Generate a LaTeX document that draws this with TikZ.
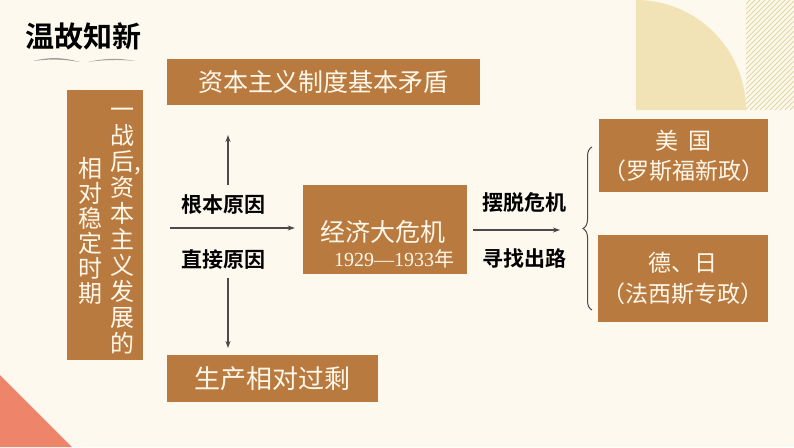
\documentclass[tikz,border=0pt]{standalone}
\usepackage{fontspec}
\setmainfont{Noto Sans CJK SC}[BoldFont={Noto Sans CJK SC Bold}]
\newfontfamily\numfont{Liberation Serif}
\usetikzlibrary{arrows.meta, positioning, calc, decorations.pathreplacing}
\definecolor{slideBg}{HTML}{FDF9EE}
\definecolor{boxBrown}{HTML}{B97A3F}
\definecolor{boxText}{HTML}{FFF8EA}
\definecolor{arcSand}{HTML}{F1E3B6}
\definecolor{hatchSand}{HTML}{E4D49F}
\definecolor{cornerSalmon}{HTML}{EE846A}
\definecolor{arrowGray}{HTML}{4A4A4A}

\begin{document}
\begin{tikzpicture}[x=1pt, y=-1pt,
    box/.style={fill=boxBrown, text=boxText, inner sep=0pt, align=center},
    boxword/.style={text=boxText, inner sep=0pt, align=center},
    cue/.style={text=black, font=\fontsize{21}{24}\selectfont\bfseries},
    link/.style={arrowGray, line width=1.2pt, -{Stealth[length=7pt, width=5pt]}}]
        % fondo
        \fill[slideBg] (0,0) rectangle (794,447);
        \useasboundingbox (0,0) rectangle (794,447);
        % esquina
        \fill[arcSand] (636,110) -- (636,0) arc[start angle=270, end angle=360, radius=110] -- cycle;
        \begin{scope}
          \clip (746,0) -- (794,0) -- (794,110) -- (746,110) -- cycle;
          \foreach \k in {0,5,...,170}
            \draw[hatchSand, line width=1pt] (630+\k,110) -- (740+\k,0);
        \end{scope}
        \fill[cornerSalmon] (0,375) -- (72,447) -- (0,447) -- cycle;
        % titulo
        \node[font=\fontsize{29}{32}\selectfont\bfseries] (title) at (83.5,36) {温故知新};
        \fill[gray!75] (33,61) .. controls (48,57) and (62,57) .. (80,62)
          .. controls (62,59) and (48,59) .. (33,61) -- cycle;
        \fill[gray!75] (88,62) .. controls (105,58) and (120,58) .. (135,61)
          .. controls (120,59.5) and (105,59.5) .. (88,62) -- cycle;
        % periodo
        \node[box, minimum width=76pt, minimum height=270pt] (eraBox) at (105,225) {};
        \node[boxword, font=\fontsize{24}{26}\selectfont] (eraLineA) at (122,231)
          {一\\战\\后\rlap{,}\\资\\本\\主\\义\\发\\展\\的};
        \node[boxword, font=\fontsize{24}{25}\selectfont] (eraLineB) at (90,231)
          {相\\对\\稳\\定\\时\\期};
        % causas
        \node[box, minimum width=313pt, minimum height=46pt, font=\fontsize{25}{28}\selectfont]
          (rootBox) at (323.5,82) {资本主义制度基本矛盾};
        \node[box, minimum width=211pt, minimum height=47pt, font=\fontsize{26}{28}\selectfont]
          (directBox) at (272.5,378.5) {生产相对过剩};
        \node[cue] (rootCue) at (223,205) {根本原因};
        \node[cue] (directCue) at (223,260) {直接原因};
        \coordinate (upFrom) at (228,185);
        \coordinate (upTo) at (228,135);
        \coordinate (downFrom) at (228,278);
        \coordinate (downTo) at (228,348);
        \coordinate (midFrom) at (170,228);
        \draw[link] (upFrom) -- (upTo);
        \draw[link] (downFrom) -- (downTo);
        % crisis
        \node[box, minimum width=164pt, minimum height=89pt] (crisis) at (385,229.5) {};
        \node[boxword, font=\fontsize{25}{28}\selectfont] (crisisName) at (383,232) {经济大危机};
        \node[boxword, font=\fontsize{20}{22}\selectfont] (crisisYears) at (394,259)
          {{\numfont 1929—1933}年};
        \draw[link, shorten >=8pt] (midFrom) -- (midFrom -| crisis.west);
        % salida
        \node[cue] (escapeCue) at (524,203) {摆脱危机};
        \node[cue] (seekCue) at (524,259) {寻找出路};
        \coordinate (outTo) at (560,230);
        \draw[link, shorten <=6pt] (crisis.east |- outTo) -- (outTo);
        \node[box, minimum width=169pt, minimum height=73pt, font=\fontsize{23}{30}\selectfont]
          (usBox) at (683.5,155.5) {美\ \ 国\\（罗斯福新政）};
        \node[box, minimum width=170pt, minimum height=87pt, font=\fontsize{23}{31}\selectfont]
          (axisBox) at (683,278.5) {德、日\\（法西斯专政）};
        \coordinate (braceLow) at (592,310);
        \coordinate (braceHigh) at (592,147);
        \draw[arrowGray, line width=1pt, decorate, decoration={brace, amplitude=9pt}]
          (braceLow) -- (braceHigh);
\end{tikzpicture}
\end{document}
